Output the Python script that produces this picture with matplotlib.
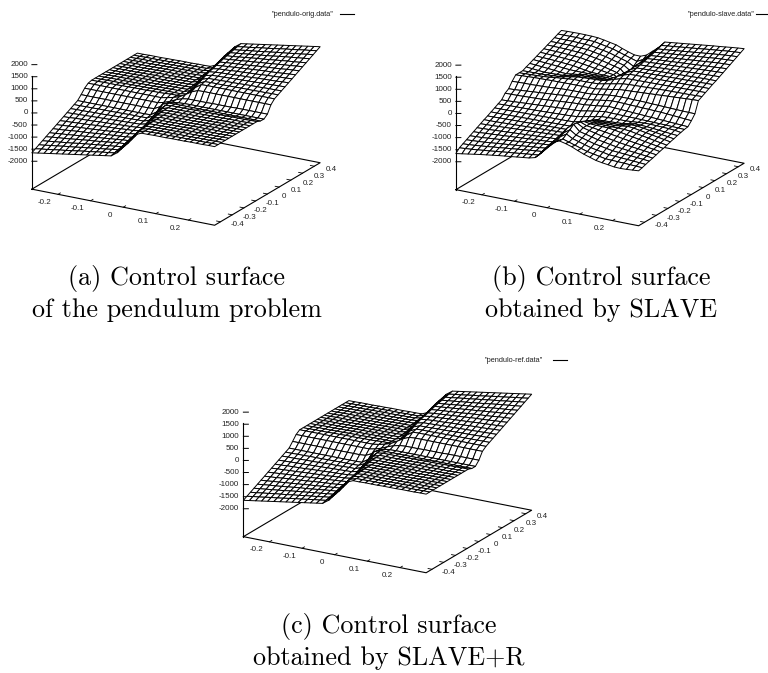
import numpy as np
import matplotlib
matplotlib.use('Agg')
import matplotlib.pyplot as plt
from matplotlib.lines import Line2D
from mpl_toolkits.mplot3d import proj3d

# axes ranges and ticks
x_grid = np.linspace(-0.28, 0.28, 31)
y_grid = np.linspace(-0.45, 0.45, 31)
x_ticks = [-0.2, -0.1, 0, 0.1, 0.2]
y_ticks = [-0.4, -0.3, -0.2, -0.1, 0, 0.1, 0.2, 0.3, 0.4]
z_ticks = [-2000, -1500, -1000, -500, 0, 500, 1000, 1500, 2000]

# surface values, one row per y node
right_flat = [60, 60, 70, 70, 70, 80, 80, 80, 90, 90, 90, 100, 100]
left_flat = [-110, -110, -100, -100, -100, -90, -90, -80, -80, -80, -70, -70, -60]

z_orig = [
    [-1650, -1610, -1570, -1530, -1490, -1450, -1410, -1370, -1330, -1290, -1250, -1210, -1170, -1130, -950, -600, -300, -50] + right_flat,
    [-1570, -1530, -1500, -1460, -1420, -1390, -1350, -1310, -1270, -1240, -1200, -1160, -1130, -1090, -900, -560, -270, -20] + right_flat,
    [-1490, -1460, -1420, -1390, -1350, -1320, -1290, -1250, -1220, -1180, -1150, -1120, -1080, -1050, -860, -520, -230, 10] + right_flat,
    [-1410, -1380, -1350, -1320, -1290, -1260, -1220, -1190, -1160, -1130, -1100, -1070, -1040, -1010, -820, -480, -190, 30] + right_flat,
    [-1330, -1300, -1270, -1250, -1220, -1190, -1160, -1130, -1110, -1080, -1050, -1020, -990, -970, -760, -430, -130, 50] + right_flat,
    [-1250, -1230, -1200, -1180, -1150, -1130, -1100, -1080, -1050, -1030, -1000, -980, -950, -930, -700, -380, -90, 60] + right_flat,
    [-1170, -1150, -1130, -1100, -1080, -1060, -1040, -1020, -990, -970, -950, -930, -910, -880, -640, -320, -50, 60] + right_flat,
    [-1090, -1070, -1050, -1030, -1010, -1000, -980, -960, -940, -920, -900, -880, -860, -830, -570, -260, -20, 60] + right_flat,
    [-1010, -990, -980, -960, -950, -930, -910, -900, -880, -870, -850, -830, -820, -780, -500, -200, 20, 60] + right_flat,
    [-930, -920, -900, -890, -880, -870, -850, -840, -830, -810, -800, -790, -770, -740, -430, -130, 40, 60] + right_flat,
    [-850, -840, -830, -820, -810, -800, -790, -780, -770, -760, -750, -740, -730, -670, -360, -80, 50, 60] + right_flat,
    [-770, -760, -760, -750, -740, -740, -730, -720, -710, -710, -700, -690, -690, -600, -290, -30, 60, 60] + right_flat,
    [-690, -690, -680, -680, -670, -670, -670, -660, -660, -650, -650, -650, -640, -520, -200, 20, 60, 60] + right_flat,
    [-610] * 12 + [-600, -430, -60, 30, 40, 40] + [40] * 13,
    [-450] * 12 + [-430, -300, -120, -20, 10, 25] + [30] * 13,
    [-270] * 13 + [-210, -120, 0, 90, 130, 130, 130, 130, 140, 140, 140, 140, 150, 150, 150, 150, 150, 150],
    [-150] * 13 + [-100, -40, 40, 180, 340, 440] + [450] * 12,
    left_flat + [-40, -40, -30, 60, 430, 600] + [610] * 12,
    left_flat + [-60, -60, -20, 200, 520, 640, 650, 650, 650, 660, 660, 670, 670, 670, 680, 680, 690, 690],
    left_flat + [-60, -60, 30, 290, 600, 690, 690, 700, 710, 710, 720, 730, 740, 740, 750, 760, 760, 770],
    left_flat + [-60, -50, 80, 360, 670, 730, 740, 750, 760, 770, 780, 790, 800, 810, 820, 830, 840, 850],
    left_flat + [-60, -40, 130, 430, 740, 770, 790, 800, 810, 830, 840, 850, 870, 880, 890, 900, 920, 930],
    left_flat + [-60, -20, 200, 500, 780, 820, 830, 850, 870, 880, 900, 910, 930, 950, 960, 980, 990, 1010],
    left_flat + [-60, 20, 260, 570, 830, 860, 880, 900, 920, 940, 960, 980, 1000, 1010, 1030, 1050, 1070, 1090],
    left_flat + [-60, 50, 320, 640, 880, 910, 930, 950, 970, 990, 1020, 1040, 1060, 1080, 1100, 1130, 1150, 1170],
    left_flat + [-60, 90, 380, 700, 930, 950, 980, 1000, 1030, 1050, 1080, 1100, 1130, 1150, 1180, 1200, 1230, 1250],
    left_flat + [-50, 130, 430, 760, 970, 990, 1020, 1050, 1080, 1110, 1130, 1160, 1190, 1220, 1250, 1270, 1300, 1330],
    left_flat + [-30, 190, 480, 820, 1010, 1040, 1070, 1100, 1130, 1160, 1190, 1220, 1260, 1290, 1320, 1350, 1380, 1410],
    left_flat + [-10, 230, 520, 860, 1050, 1080, 1120, 1150, 1180, 1220, 1250, 1290, 1320, 1350, 1390, 1420, 1460, 1490],
    left_flat + [20, 270, 560, 900, 1090, 1130, 1160, 1200, 1240, 1270, 1310, 1350, 1390, 1420, 1460, 1500, 1530, 1570],
    left_flat + [50, 300, 600, 950, 1130, 1170, 1210, 1250, 1290, 1330, 1370, 1410, 1450, 1490, 1530, 1570, 1610, 1650],
]

# the refined surface is the original one except around the central strip
z_ref = [row[:] for row in z_orig]
z_ref[14] = [-420] * 12 + [-400, -280, -100, 0, 30, 40] + [40] * 13
z_ref[15] = [-220] * 13 + [-170, -90, 20, 110, 170, 190, 190, 190, 200, 200, 200, 200, 210, 210, 210, 210, 210, 210]
z_ref[16] = [-110] * 13 + [-70, -10, 70, 210, 370, 470] + [490] * 12

z_slave = [
    [-1660, -1620, -1580, -1540, -1500, -1465, -1430, -1395, -1365, -1335, -1305, -1275, -1245, -1180, -950, -650, -400, -290, -350, -430, -540, -640, -720, -800, -845, -880, -920, -930, -920, -900, -880],
    [-1510, -1490, -1470, -1445, -1415, -1390, -1360, -1330, -1300, -1275, -1245, -1215, -1190, -1160, -900, -650, -430, -300, -380, -460, -540, -620, -670, -720, -770, -780, -790, -800, -815, -825, -840],
    [-1430, -1415, -1395, -1370, -1345, -1315, -1290, -1260, -1235, -1205, -1180, -1150, -1125, -1100, -850, -570, -340, -180, -320, -395, -470, -545, -595, -640, -690, -705, -720, -735, -755, -770, -790],
    [-1350, -1335, -1320, -1300, -1275, -1250, -1225, -1200, -1175, -1150, -1125, -1100, -1075, -1050, -800, -500, -260, -90, -260, -330, -400, -470, -515, -565, -610, -630, -650, -670, -695, -715, -740],
    [-1270, -1255, -1245, -1220, -1200, -1175, -1155, -1130, -1110, -1085, -1065, -1040, -1020, -1000, -780, -450, -150, 50, -200, -260, -325, -390, -435, -485, -530, -560, -590, -615, -645, -670, -700],
    [-1190, -1175, -1155, -1140, -1120, -1105, -1085, -1070, -1050, -1035, -1015, -1000, -980, -960, -770, -460, -170, 20, -130, -195, -255, -315, -360, -405, -450, -485, -520, -550, -585, -615, -650],
    [-1110, -1095, -1085, -1070, -1055, -1040, -1025, -1010, -995, -980, -965, -950, -935, -920, -760, -480, -200, -30, -130, -165, -205, -240, -285, -325, -370, -410, -450, -485, -525, -560, -600],
    [-1030, -1020, -1010, -995, -985, -970, -955, -945, -930, -920, -905, -895, -880, -870, -740, -500, -270, -90, -140, -150, -155, -160, -200, -245, -290, -335, -380, -425, -470, -515, -560],
    [-950, -945, -940, -930, -920, -910, -900, -890, -880, -870, -860, -850, -840, -830, -720, -530, -320, -160, -190, -190, -195, -200, -200, -205, -230, -280, -325, -370, -420, -465, -510],
    [-880, -875, -865, -860, -850, -845, -840, -830, -825, -820, -810, -805, -800, -790, -690, -540, -370, -230, -240, -240, -240, -240, -200, -165, -190, -235, -280, -325, -370, -415, -460],
    [-800, -800, -795, -790, -785, -780, -775, -770, -765, -760, -755, -750, -745, -740, -660, -560, -420, -300, -300, -295, -290, -280, -235, -190, -190, -230, -270, -305, -345, -380, -420],
    [-720, -715, -710, -705, -700, -695, -690, -685, -680, -675, -670, -665, -660, -650, -590, -520, -430, -370, -360, -350, -335, -320, -275, -235, -240, -255, -275, -300, -325, -350, -370],
    [-640, -630, -620, -615, -610, -605, -600, -590, -580, -570, -560, -550, -540, -520, -470, -420, -370, -320, -310, -300, -300, -300, -280, -260, -240, -240, -250, -260, -270, -290, -330],
    [-560, -550, -535, -520, -505, -490, -475, -460, -445, -430, -415, -400, -385, -370, -320, -280, -240, -200, -210, -215, -220, -225, -230, -235, -240, -250, -255, -260, -270, -280, -290],
    [-370, -365, -360, -350, -340, -330, -320, -300, -280, -260, -240, -220, -210, -200, -170, -140, -110, -70, -85, -100, -115, -130, -145, -160, -175, -190, -205, -220, -235, -250, -265],
    [-270, -260, -240, -220, -200, -180, -160, -140, -120, -100, -90, -80, -75, -70, -40, 0, 40, 70, 70, 60, 50, 40, 30, 20, 10, 0, -20, -40, -60, -80, -100],
    [-50, -40, -30, -30, -20, -10, 0, 20, 40, 50, 55, 60, 60, 70, 100, 140, 170, 190, 190, 190, 180, 180, 170, 160, 150, 140, 130, 120, 110, 105, 100],
    [130, 145, 155, 170, 175, 180, 190, 190, 195, 200, 200, 200, 200, 200, 240, 280, 320, 370, 385, 400, 415, 430, 445, 460, 475, 490, 505, 520, 535, 550, 560],
    [130, 140, 150, 160, 175, 195, 230, 250, 275, 300, 300, 300, 310, 320, 370, 420, 470, 520, 540, 550, 560, 570, 580, 590, 600, 605, 610, 615, 620, 630, 640],
    [130, 135, 140, 140, 155, 170, 190, 230, 275, 320, 335, 350, 360, 370, 430, 520, 590, 650, 660, 665, 670, 675, 680, 685, 690, 695, 700, 705, 710, 715, 720],
    [200, 175, 150, 130, 135, 140, 150, 190, 235, 280, 290, 295, 300, 300, 420, 560, 660, 740, 745, 750, 755, 760, 765, 770, 775, 780, 785, 790, 795, 800, 800],
    [260, 240, 220, 200, 175, 150, 130, 165, 200, 240, 240, 240, 240, 230, 370, 540, 690, 790, 800, 805, 810, 820, 825, 830, 840, 845, 850, 860, 865, 875, 880],
    [330, 310, 295, 275, 255, 230, 210, 205, 200, 200, 195, 190, 190, 160, 320, 530, 720, 830, 840, 850, 860, 870, 880, 890, 900, 910, 920, 930, 940, 945, 950],
    [390, 375, 365, 350, 330, 310, 290, 245, 200, 160, 155, 150, 140, 90, 270, 500, 740, 870, 880, 895, 905, 920, 930, 945, 955, 970, 985, 995, 1010, 1020, 1030],
    [460, 450, 435, 425, 405, 390, 370, 325, 285, 240, 205, 165, 130, 30, 200, 480, 760, 920, 935, 950, 965, 980, 995, 1010, 1025, 1040, 1055, 1070, 1085, 1095, 1110],
    [520, 515, 505, 500, 480, 465, 450, 405, 360, 315, 255, 195, 130, -20, 170, 460, 770, 960, 980, 1000, 1015, 1035, 1050, 1070, 1085, 1105, 1120, 1140, 1155, 1175, 1190],
    [590, 585, 580, 575, 560, 545, 530, 485, 435, 390, 325, 260, 200, -50, 150, 450, 780, 1000, 1020, 1040, 1065, 1085, 1110, 1130, 1155, 1175, 1200, 1220, 1245, 1255, 1270],
    [650, 650, 650, 650, 635, 625, 610, 565, 515, 470, 400, 330, 260, 90, 260, 500, 800, 1050, 1075, 1100, 1125, 1150, 1175, 1200, 1225, 1250, 1275, 1300, 1320, 1335, 1350],
    [720, 720, 720, 720, 710, 700, 690, 640, 595, 545, 470, 395, 320, 180, 340, 570, 850, 1100, 1125, 1150, 1180, 1205, 1235, 1260, 1290, 1315, 1345, 1370, 1395, 1415, 1430],
    [785, 790, 790, 795, 785, 780, 770, 720, 670, 620, 540, 460, 380, 300, 430, 650, 900, 1160, 1190, 1215, 1245, 1275, 1300, 1330, 1360, 1390, 1415, 1445, 1470, 1490, 1510],
    [850, 860, 865, 870, 865, 860, 845, 800, 750, 700, 600, 510, 433, 430, 530, 740, 950, 1215, 1245, 1275, 1305, 1335, 1365, 1395, 1425, 1455, 1480, 1510, 1540, 1565, 1590],
]

W, H = 768, 673
TICK_FONT = 'Liberation Sans'

fig = plt.figure(figsize=(W / 100, H / 100), dpi=100)
fig.patch.set_facecolor('white')


def fx(px):
    return px / W


def fy(py):
    return 1 - py / H


def draw_panel(cx, cy, z, name, name_x, name_y, caption, cap_x, cap_y):
    # cx, cy = pixel position of the middle of the box
    size = 318
    ax = fig.add_axes([fx(cx - 0.5135 * size), fy(cy + 0.5135 * size), size / W, size / H],
                      projection='3d')
    ax.set_proj_type('ortho')
    ax.view_init(elev=20, azim=-60)
    ax.set_box_aspect((1, 1, 0.64))
    ax.set_axis_off()
    x0, x1 = x_grid[0], x_grid[-1]
    y0, y1 = y_grid[0], y_grid[-1]
    zb = -3155
    ax.set_xlim(x0, x1)
    ax.set_ylim(y0, y1)
    ax.set_zlim(zb, 2100)

    # base of the box
    ax.plot([x0, x1, x1, x0, x0], [y0, y0, y1, y1, y0], [zb] * 5, color='black', lw=0.8)
    ax.plot([x0, x0], [y0, y0], [zb, 1550], color='black', lw=0.8)

    X, Y = np.meshgrid(x_grid, y_grid)
    ax.plot_surface(X, Y, np.array(z, dtype=float), rstride=1, cstride=1, color='white',
                    edgecolor='black', linewidth=0.7, shade=False)

    M = ax.get_proj()

    def label(x, y, zv, text, dx, dy, ha):
        px, py, _ = proj3d.proj_transform(x, y, zv, M)
        ax.annotate(text, (px, py), xytext=(dx, dy), textcoords='offset pixels', ha=ha,
                    va='center', fontsize=5.8, family=TICK_FONT, color='#222222')

    for t in x_ticks:
        ax.plot([t, t], [y0, y0 + 0.02], [zb, zb], color='black', lw=0.6)
        label(t, y0, zb, str(t), -13, -8, 'center')
    for t in y_ticks:
        ax.plot([x1, x1 - 0.012], [t, t], [zb, zb], color='black', lw=0.6)
        label(x1, t, zb, str(t), 17, -3, 'center')
    for t in z_ticks:
        ax.plot([x0, x0 + 0.0114], [y0, y0 + 0.011], [t, t], color='black', lw=0.7)
        label(x0, y0, t, str(t), -4, 0, 'right')

    # key of the plot
    fig.text(fx(name_x), fy(name_y), name, fontsize=5.3, family=TICK_FONT, va='center', color='#222222')
    fig.add_artist(Line2D([fx(name_x + 68), fx(name_x + 82)], [fy(name_y), fy(name_y)],
                          color='black', lw=0.8))
    for k, line in enumerate(caption):
        fig.text(fx(cap_x), fy(cap_y + 32 * k), line, fontsize=18.8, family='cmr10',
                 ha='center', va='center', color='black')


draw_panel(176, 112.5, z_orig, '"pendulo-orig.data"', 272, 14,
           ['(a) Control surface', 'of the pendulum problem'], 177, 278)
draw_panel(600, 113, z_slave, '"pendulo-slave.data"', 688, 14,
           ['(b) Control surface', 'obtained by SLAVE'], 601, 278)
draw_panel(387.5, 460, z_ref, '"pendulo-ref.data"', 485, 360,
           ['(c) Control surface', 'obtained by SLAVE+R'], 389, 626)

fig.savefig('out.png', dpi=100)
